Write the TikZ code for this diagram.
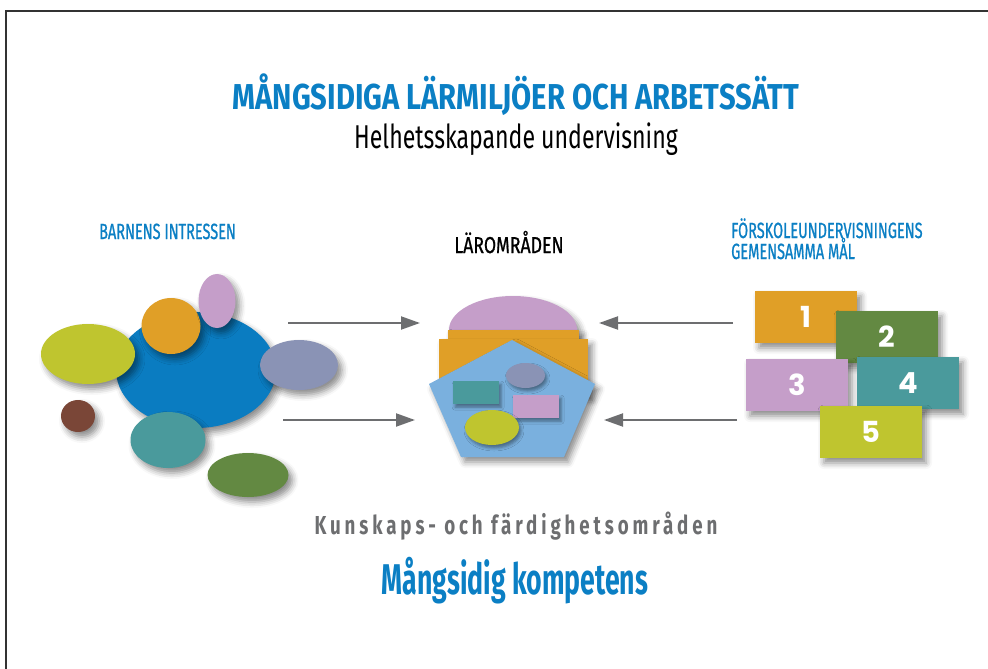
\documentclass[tikz,border=0pt]{standalone}
\usepackage{fontspec}
\setmainfont{Fira Sans}
\newfontfamily\cnd[FakeStretch=0.72]{Fira Sans}
\newfontfamily\cndA[FakeStretch=0.81]{Fira Sans}
\newfontfamily\cndB[FakeStretch=0.70]{Fira Sans}
\newfontfamily\cndC[FakeStretch=0.66,FakeBold=0.8]{Fira Sans}
\newfontfamily\cndD[FakeStretch=0.77,FakeBold=0.8]{Fira Sans}
\newfontfamily\cndn[FakeStretch=0.62]{Fira Sans}
\newfontfamily\numf{Poppins}
\usetikzlibrary{shapes.geometric,shadows.blur,arrows.meta}
\definecolor{blueT}{HTML}{0B7FC4}
\definecolor{bigblue}{HTML}{0A7CC1}
\definecolor{ylw}{HTML}{BFC52F}
\definecolor{org}{HTML}{E09F27}
\definecolor{pnk}{HTML}{C59EC9}
\definecolor{lav}{HTML}{8A93B5}
\definecolor{brn}{HTML}{7A4637}
\definecolor{teal}{HTML}{4A9A9C}
\definecolor{grn}{HTML}{638942}
\definecolor{pent}{HTML}{7AB0DE}
\definecolor{gry}{HTML}{6D6E70}
\tikzset{
  sh/.style={blur shadow={shadow xshift=4pt, shadow yshift=-5pt, shadow blur radius=6pt, shadow opacity=45}},
  shs/.style={blur shadow={shadow xshift=2pt, shadow yshift=-3pt, shadow blur radius=3pt, shadow opacity=40}},
  blob/.style={ellipse, inner sep=0pt, draw=none, sh},
  numbox/.style={rectangle, inner sep=0pt, minimum width=102pt, minimum height=52pt, text=white, font=\numf\bfseries\fontsize{29}{30}\selectfont, sh},
  arr/.style={gry, line width=2pt, -{Triangle[length=19pt,width=13pt]}},
  lbl/.style={inner sep=0pt},
}
\begin{document}
\begin{tikzpicture}[x=1pt,y=-1pt]
\useasboundingbox (0,0) rectangle (988,669);
\draw[line width=1.5pt, black!80] (6,669) -- (6,11) -- (988,11);

% titles
\node[lbl, anchor=base, text=blueT, font=\cndA\bfseries\fontsize{36}{40}\selectfont] (title) at (516,110) {MÅNGSIDIGA LÄRMILJÖER OCH ARBETSSÄTT};
\node[lbl, anchor=base, text=black, font=\cndB\fontsize{33}{36}\selectfont] (subtitle) at (516,148) {Helhetsskapande undervisning};

\node[lbl, anchor=base west, text=blueT, font=\cndC\fontsize{22}{24}\selectfont] (barn) at (99,239) {BARNENS INTRESSEN};
\node[lbl, anchor=base, text=black, font=\cndD\fontsize{23}{24}\selectfont] (laro) at (509,253) {LÄROMRÅDEN};
\node[lbl, anchor=base west, text=blueT, font=\cndC\fontsize{22}{24}\selectfont] (fsk1) at (731,238) {FÖRSKOLEUNDERVISNINGENS};
\node[lbl, anchor=base west, text=blueT, font=\cndC\fontsize{22}{24}\selectfont] (fsk2) at (731,259) {GEMENSAMMA MÅL};

\node[lbl, anchor=base, text=gry, font=\cnd\bfseries\fontsize{26}{28}\selectfont\addfontfeature{LetterSpace=15}] (kunsk) at (516,534) {Kunskaps- och färdighetsområden};
\node[lbl, anchor=base, text=blueT, font=\cndn\bfseries\fontsize{43}{46}\selectfont] (komp) at (515,594) {Mångsidig kompetens};

% left cluster
\node[blob, fill=bigblue, minimum width=160pt, minimum height=116pt] (big) at (196,370) {};
\node[blob, fill=ylw, minimum width=94pt, minimum height=60pt] (yl) at (88,354) {};
\node[blob, fill=org, minimum width=59pt, minimum height=56pt] (or) at (171,326) {};
\node[blob, fill=pnk, minimum width=37pt, minimum height=54pt] (pk) at (217,301) {};
\node[blob, fill=lav, minimum width=78pt, minimum height=50pt] (lv) at (299,365) {};
\node[blob, fill=brn, minimum width=34pt, minimum height=32pt] (br) at (78,416) {};
\node[blob, fill=teal, minimum width=75pt, minimum height=56pt] (tl) at (168,440) {};
\node[blob, fill=grn, minimum width=81pt, minimum height=44pt] (gn) at (248,475) {};

% centre
\node[blob, fill=pnk, minimum width=128pt, minimum height=68pt] (dome) at (513,330) {};
\node[rectangle, inner sep=0pt, fill=org, sh, minimum width=131pt, minimum height=60pt, anchor=north west] (orb) at (448,330) {};
\node[rectangle, inner sep=0pt, fill=org, sh, minimum width=149pt, minimum height=56pt, anchor=north west] (orf) at (439,339) {};
\path[fill=pent, sh] (512,340) -- (595,384) -- (564,457) -- (461,457) -- (429,384) -- cycle;
\node[rectangle, inner sep=0pt, fill=teal, shs, minimum width=46pt, minimum height=23pt, anchor=north west] (ctl) at (453,381) {};
\node[ellipse, inner sep=0pt, fill=lav, shs, minimum width=39pt, minimum height=25pt] (clv) at (525.5,375.5) {};
\node[rectangle, inner sep=0pt, fill=pnk, shs, minimum width=46pt, minimum height=23pt, anchor=north west] (cpk) at (513,395) {};
\node[ellipse, inner sep=0pt, fill=ylw, shs, minimum width=54pt, minimum height=35pt] (cyl) at (492,427.5) {};

% right boxes
\node[numbox, fill=org] (b1) at (806,317) {1};
\node[numbox, fill=grn] (b2) at (887,337) {2};
\node[numbox, fill=pnk] (b3) at (797,385) {3};
\node[numbox, fill=teal] (b4) at (908,383) {4};
\node[numbox, fill=ylw] (b5) at (871,432) {5};

% arrows
\coordinate (l1s) at (288,323); \coordinate (l1e) at (420,323);
\coordinate (l2s) at (283,420); \coordinate (l2e) at (415,420);
\coordinate (r1s) at (733,323); \coordinate (r1e) at (599,323);
\coordinate (r2s) at (737,420); \coordinate (r2e) at (604,420);
\draw[arr] (l1s) -- (l1e);
\draw[arr] (l2s) -- (l2e);
\draw[arr] (r1s) -- (r1e);
\draw[arr] (r2s) -- (r2e);
\end{tikzpicture}
\end{document}
